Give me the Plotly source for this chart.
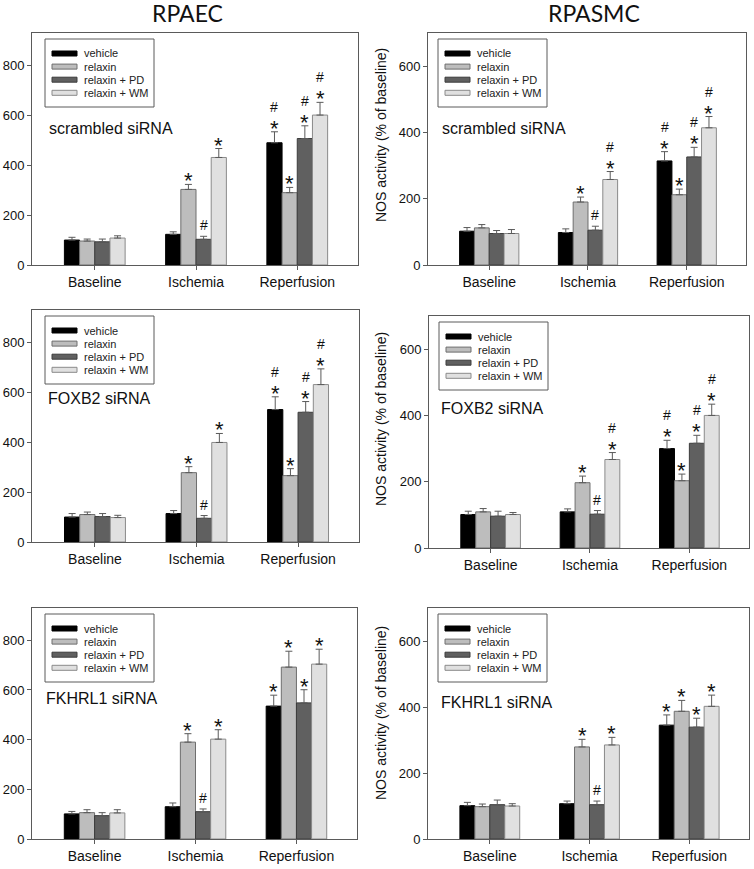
import plotly.graph_objects as go

W, H = 754, 869

categories = ["Baseline", "Ischemia", "Reperfusion"]
series = ["vehicle", "relaxin", "relaxin + PD", "relaxin + WM"]
fill_colors = ["#000000", "#bdbdbd", "#606060", "#e0e0e0"]
edge_colors = ["#000000", "#6e6e6e", "#3c3c3c", "#8a8a8a"]

col_titles = ["RPAEC", "RPASMC"]
panel_labels = ["scrambled siRNA", "scrambled siRNA", "FOXB2 siRNA", "FOXB2 siRNA",
                "FKHRL1 siRNA", "FKHRL1 siRNA"]
y_title = "NOS activity (% of baseline)"
left_ticks = [0, 200, 400, 600, 800]
right_ticks = [0, 200, 400, 600]

# mean values: one row per series (vehicle, relaxin, relaxin+PD, relaxin+WM), columns = categories
aec_scrambled_mean = [[100, 123, 490], [96, 303, 290], [93, 103, 507], [108, 431, 601]]
aec_scrambled_err = [[11, 10, 44], [8, 20, 21], [11, 12, 51], [9, 36, 51]]
aec_scrambled_sig = [["", "", "#*"], ["", "*", "*"], ["", "#", "#*"], ["", "*", "#*"]]

smc_scrambled_mean = [[102, 98, 314], [112, 190, 212], [95, 105, 326], [95, 258, 414]]
smc_scrambled_err = [[11, 11, 28], [10, 15, 17], [9, 12, 29], [12, 24, 34]]
smc_scrambled_sig = [["", "", "#*"], ["", "*", "*"], ["", "#", "#*"], ["", "#*", "#*"]]

aec_foxb2_mean = [[100, 114, 531], [110, 278, 266], [102, 95, 520], [98, 399, 631]]
aec_foxb2_err = [[14, 12, 51], [10, 24, 28], [12, 11, 43], [9, 36, 63]]
aec_foxb2_sig = [["", "", "#*"], ["", "*", "*"], ["", "#", "#*"], ["", "*", "#*"]]

smc_foxb2_mean = [[101, 109, 300], [109, 197, 203], [96, 102, 316], [101, 267, 400]]
smc_foxb2_err = [[10, 9, 25], [10, 20, 20], [15, 11, 24], [6, 21, 34]]
smc_foxb2_sig = [["", "", "#*"], ["", "*", "*"], ["", "#", "#*"], ["", "#*", "#*"]]

aec_fkhrl1_mean = [[101, 130, 535], [106, 390, 692], [94, 110, 548], [105, 402, 704]]
aec_fkhrl1_err = [[10, 15, 44], [12, 34, 64], [12, 11, 53], [13, 38, 60]]
aec_fkhrl1_sig = [["", "", "*"], ["", "*", "*"], ["", "#", "*"], ["", "*", "*"]]

smc_fkhrl1_mean = [[101, 107, 345], [98, 279, 387], [104, 104, 339], [100, 285, 402]]
smc_fkhrl1_err = [[10, 8, 31], [8, 23, 33], [14, 11, 27], [7, 23, 34]]
smc_fkhrl1_sig = [["", "", "*"], ["", "*", "*"], ["", "#", "*"], ["", "*", "*"]]

panels = [
    (aec_scrambled_mean, aec_scrambled_err, aec_scrambled_sig),
    (smc_scrambled_mean, smc_scrambled_err, smc_scrambled_sig),
    (aec_foxb2_mean, aec_foxb2_err, aec_foxb2_sig),
    (smc_foxb2_mean, smc_foxb2_err, smc_foxb2_sig),
    (aec_fkhrl1_mean, aec_fkhrl1_err, aec_fkhrl1_sig),
    (smc_fkhrl1_mean, smc_fkhrl1_err, smc_fkhrl1_sig),
]

# panel boxes in pixels: (x0, x1, y0_top, y1_bottom)
boxes = [
    (32, 358, 33, 265),
    (428, 746, 33, 265),
    (32, 359, 310, 542),
    (429, 749, 316, 548),
    (32, 357, 608, 839),
    (428, 749, 608, 839),
]
label_offsets = [(15, 95), (12, 95), (14, 88), (10, 92), (12, 90), (11, 94)]

def px(x):
    return x / W

def py(y):
    return 1 - y / H

AX = "#5a5a5a"
TXT = "#111111"
FONT = "Liberation Sans, Arial, sans-serif"

fig = go.Figure()
layout = {}
annotations = []
shapes = []
group_offsets = [-0.225, -0.075, 0.075, 0.225]

for i, ((mean, err, sig), box) in enumerate(zip(panels, boxes)):
    n = i + 1
    xa = "x" if n == 1 else f"x{n}"
    ya = "y" if n == 1 else f"y{n}"
    left = (i % 2 == 0)
    ymax = 930 if left else 700
    for k, name in enumerate(series):
        fig.add_trace(go.Bar(
            x=categories, y=mean[k], name=name, xaxis=xa, yaxis=ya,
            marker=dict(color=fill_colors[k], line=dict(color=edge_colors[k], width=1)),
            error_y=dict(type="data", symmetric=False, array=err[k],
                         arrayminus=[0] * len(err[k]), color=AX, thickness=1, width=3.5),
            showlegend=False,
        ))
        for c in range(len(categories)):
            s = sig[k][c]
            if not s:
                continue
            top = mean[k][c] + err[k][c]
            xpos = c + group_offsets[k]
            if "*" in s:
                annotations.append(dict(x=xpos, y=top, xref=xa, yref=ya, text="*",
                                        showarrow=False, yanchor="bottom", borderpad=0,
                                        yshift=-10, font=dict(size=22, family=FONT, color=TXT)))
            if "#" in s:
                annotations.append(dict(x=xpos, y=top, xref=xa, yref=ya, text="#",
                                        showarrow=False, yanchor="bottom", borderpad=0,
                                        yshift=(16 if "*" in s else 2),
                                        font=dict(size=14, family=FONT, color=TXT)))
    x0, x1, y0, y1 = box
    axis_common = dict(showline=True, linecolor=AX, linewidth=1, mirror=True,
                       ticks="outside", ticklen=4, tickcolor=AX, showgrid=False,
                       zeroline=False)
    layout["xaxis" if n == 1 else f"xaxis{n}"] = dict(
        domain=[px(x0), px(x1)], anchor=ya, range=[-0.62, 2.6],
        tickfont=dict(size=14, family=FONT, color=TXT), **axis_common)
    layout["yaxis" if n == 1 else f"yaxis{n}"] = dict(
        domain=[py(y1), py(y0)], anchor=xa, range=[0, ymax],
        tickvals=left_ticks if left else right_ticks,
        tickfont=dict(size=13, family=FONT, color=TXT), **axis_common)

    # panel label
    dx, dy = label_offsets[i]
    annotations.append(dict(x=px(x0 + dx), y=py(y0 + dy), xref="paper", yref="paper",
                            text=panel_labels[i], showarrow=False, xanchor="left",
                            yanchor="middle", font=dict(size=16, family=FONT, color=TXT)))

    # legend box
    lx0, ly0 = (x0 + 13 if left else x0 + 10), y0 + 6
    lw, lh = 109, 68
    shapes.append(dict(type="rect", xref="paper", yref="paper",
                       x0=px(lx0), x1=px(lx0 + lw), y0=py(ly0 + lh), y1=py(ly0),
                       line=dict(color=AX, width=1), fillcolor="white"))
    for k, name in enumerate(series):
        cy = ly0 + 14.5 + 13.1 * k
        shapes.append(dict(type="rect", xref="paper", yref="paper",
                           x0=px(lx0 + 7), x1=px(lx0 + 32), y0=py(cy + 2.5), y1=py(cy - 2.5),
                           line=dict(color=edge_colors[k], width=1), fillcolor=fill_colors[k]))
        annotations.append(dict(x=px(lx0 + 37), y=py(cy), xref="paper", yref="paper",
                                text=name, showarrow=False, xanchor="left", yanchor="middle",
                                font=dict(size=11, family=FONT, color="#222222")))

# column titles
for j, t in enumerate(col_titles):
    annotations.append(dict(x=px([187, 594][j]), y=py(13), xref="paper", yref="paper",
                            text=t, showarrow=False, xanchor="center", yanchor="middle",
                            font=dict(size=23, family="Lato, Carlito, sans-serif", color=TXT)))

# y-axis titles for right column
for yc in [135, 419, 713]:
    annotations.append(dict(x=px(381), y=py(yc), xref="paper", yref="paper",
                            text=y_title, showarrow=False, textangle=-90,
                            xanchor="center", yanchor="middle",
                            font=dict(size=14, family=FONT, color=TXT)))

fig.update_layout(
    width=W, height=H, margin=dict(l=0, r=0, t=0, b=0, autoexpand=False),
    paper_bgcolor="white", plot_bgcolor="white",
    barmode="group", bargap=0.4, bargroupgap=0,
    annotations=annotations, shapes=shapes, **layout,
)

fig.write_html("out.html", config={"displayModeBar": False},
               post_script="document.body.style.margin='0px';")
